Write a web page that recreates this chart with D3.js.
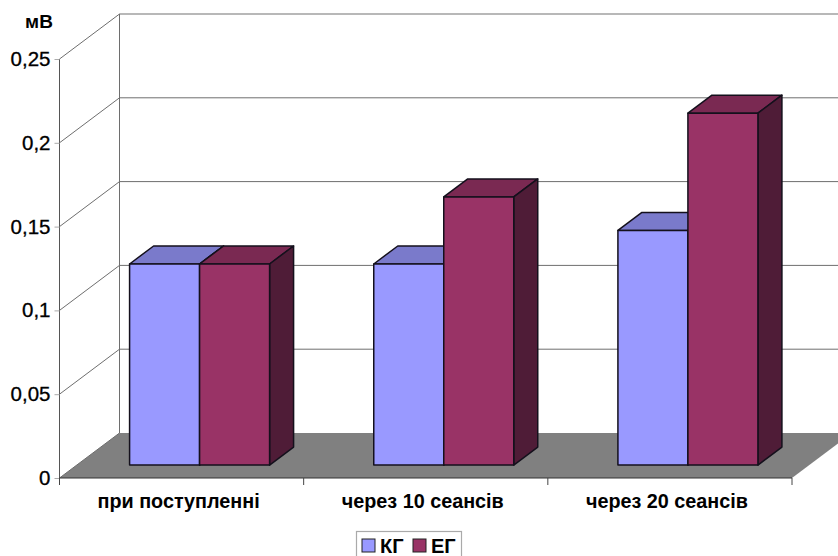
<!DOCTYPE html>
<html>
<head>
<meta charset="utf-8">
<script src="https://cdn.jsdelivr.net/npm/d3@7"></script>
<style>
    html, body { margin: 0; padding: 0; background: #fff; }
    svg { display: block; }
    text { font-family: "Liberation Sans", Arial, sans-serif; fill: #000; }
    .cat text { font-size: 19.8px; font-weight: 700; }
    .val text { font-size: 20.5px; stroke: #000; stroke-width: 0.3px; }
</style>
</head>
<body>
<svg id="chart" width="838" height="556"></svg>
<script>
const categories = ['при поступленні', 'через 10 сеансів', 'через 20 сеансів'];
const seriesNames = ['КГ', 'ЕГ'];
const kgValues = [0.12, 0.12, 0.14];
const egValues = [0.12, 0.16, 0.21];
const yTicks = [0, 0.05, 0.1, 0.15, 0.2, 0.25];
const unitLabel = 'мВ';

const seriesValues = [kgValues, egValues];
const colors = [
    { front: '#9999ff', top: '#7a7acb', side: '#4c4c80' },
    { front: '#993366', top: '#7a2952', side: '#4f1c37' }
];

const svg = d3.select('#chart');

// Front plane of the box, and how far the back wall is shifted from it
const plot = { left: 59.5, right: 792, top: 59, bottom: 478 };
const wall = { dx: 60, dy: -45 };
const bar = { dx: 24, dy: -18, width: 70 };

const x = d3.scaleBand().domain(categories).range([plot.left, plot.right]);
const y = d3.scaleLinear().domain([0, 0.25]).range([plot.bottom, plot.top]);
const xSeries = d3.scaleBand().domain(d3.range(seriesNames.length)).range([0, 2 * bar.width]);

const pts = arr => arr.map(p => p.join(',')).join(' ');

// Floor
svg.append('polygon')
    .attr('points', pts([
        [plot.left, y(0)],
        [plot.left + wall.dx, y(0) + wall.dy],
        [plot.right + wall.dx, y(0) + wall.dy],
        [plot.right, y(0)]
    ]))
    .attr('fill', '#808080');

// Grid on back wall and left wall
const grid = svg.append('g').attr('stroke', '#6e6e6e').attr('stroke-width', 1).attr('fill', 'none');
grid.selectAll('line.back').data(yTicks.slice(1)).enter().append('line')
    .attr('class', 'back')
    .attr('x1', plot.left + wall.dx)
    .attr('x2', 838)
    .attr('y1', d => y(d) + wall.dy)
    .attr('y2', d => y(d) + wall.dy)
    .attr('stroke', d => d === 0.25 ? '#a0a0a0' : '#6e6e6e')
    .attr('stroke-width', d => d === 0.25 ? 1.5 : 1);
grid.selectAll('line.side').data(yTicks).enter().append('line')
    .attr('class', 'side')
    .attr('x1', plot.left)
    .attr('x2', plot.left + wall.dx)
    .attr('y1', d => y(d))
    .attr('y2', d => y(d) + wall.dy);
grid.append('line')
    .attr('x1', plot.left + wall.dx).attr('x2', plot.left + wall.dx)
    .attr('y1', y(0.25) + wall.dy).attr('y2', y(0) + wall.dy);

// Y axis
const yAxis = svg.append('g')
    .attr('class', 'val')
    .attr('transform', `translate(${plot.left},0)`)
    .call(d3.axisLeft(y).tickValues(yTicks).tickSize(5).tickPadding(4)
        .tickFormat(d => String(d).replace('.', ',')));
yAxis.select('.domain').attr('stroke', '#555').attr('d', `M0,${y(0.25)}V${y(0) + 7}`);
yAxis.selectAll('.tick line').attr('stroke', '#aaa');

// X axis, labels sit at the band centres and ticks at the band edges
const xAxis = svg.append('g')
    .attr('class', 'cat')
    .attr('transform', `translate(0,${plot.bottom})`)
    .call(d3.axisBottom(x).tickSize(0).tickPadding(16));
xAxis.select('.domain').attr('stroke', '#333').attr('d', `M${plot.left},0H${plot.right}`);
xAxis.selectAll('.tick text').attr('dx', -3);
xAxis.selectAll('line.edge').data(d3.range(categories.length + 1)).enter().append('line')
    .attr('class', 'edge')
    .attr('x1', i => plot.left + i * x.step())
    .attr('x2', i => plot.left + i * x.step())
    .attr('y1', 0).attr('y2', 7)
    .attr('stroke', '#444');

// Bars, set halfway into the depth of the floor
const depthX = (wall.dx - bar.dx) / 2;
const depthY = (wall.dy - bar.dy) / 2;
const base = y(0) + depthY + 0.6;
const bars = svg.append('g')
    .attr('stroke', '#14101c').attr('stroke-width', 1.5).attr('stroke-linejoin', 'round');

categories.forEach((cat, c) => {
    const groupLeft = x(cat) + x.bandwidth() / 2 + depthX - bar.width;
    seriesValues.forEach((values, s) => {
        const left = groupLeft + xSeries(s);
        const right = left + xSeries.bandwidth();
        const top = base - (y(0) - y(values[c]));
        const g = bars.append('g');
        g.append('polygon').attr('fill', colors[s].top).attr('points', pts([
            [left, top], [left + bar.dx, top + bar.dy], [right + bar.dx, top + bar.dy], [right, top]
        ]));
        g.append('polygon').attr('fill', colors[s].side).attr('points', pts([
            [right, top], [right + bar.dx, top + bar.dy], [right + bar.dx, base + bar.dy], [right, base]
        ]));
        g.append('rect').attr('fill', colors[s].front)
            .attr('x', left).attr('y', top)
            .attr('width', right - left).attr('height', base - top);
    });
});

// Unit label
svg.append('text')
    .attr('x', 39).attr('y', 28)
    .attr('text-anchor', 'middle')
    .attr('font-size', 19)
    .attr('font-weight', 700)
    .text(unitLabel);

// Legend
const legend = svg.append('g');
legend.append('rect')
    .attr('x', 356.5).attr('y', 531.5).attr('width', 105).attr('height', 30)
    .attr('fill', '#fff').attr('stroke', '#aaa').attr('stroke-width', 1.2);
const legendX = d3.scalePoint().domain(seriesNames).range([362, 413]);
seriesNames.forEach((name, s) => {
    legend.append('rect')
        .attr('x', legendX(name)).attr('y', 539).attr('width', 13).attr('height', 13)
        .attr('fill', colors[s].front).attr('stroke', '#222').attr('stroke-width', 1);
    legend.append('text')
        .attr('x', legendX(name) + 18).attr('y', 553)
        .attr('font-size', 20).attr('font-weight', 700)
        .text(name);
});
</script>
</body>
</html>
